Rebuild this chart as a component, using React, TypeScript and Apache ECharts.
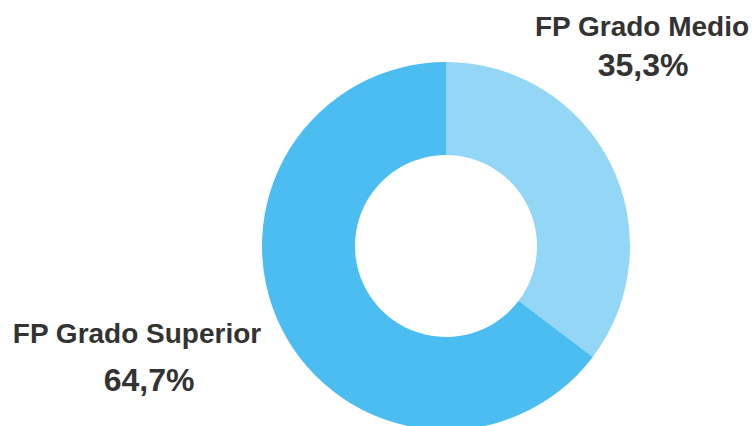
import React, { useEffect, useRef } from "react";
import * as echarts from "echarts";

const categories = ["FP Grado Medio", "FP Grado Superior"];
const values = [35.3, 64.7];
const colors = ["#93D6F5", "#4BBDF1"];

const fmt = (v: number) => v.toFixed(1).replace(".", ",") + "%";

export default function App() {
  const ref = useRef<HTMLDivElement>(null);
  useEffect(() => {
    if (!ref.current) return;
    const chart = echarts.init(ref.current, null, { renderer: "svg" });
    const labelStyle = { fill: "#333333", fontFamily: "Arial", fontWeight: "bold" as const };
    chart.setOption({
      animation: false,
      backgroundColor: "#ffffff",
      series: [
        {
          type: "pie",
          center: [446, 246],
          radius: [91, 184],
          startAngle: 90,
          clockwise: true,
          label: { show: false },
          labelLine: { show: false },
          itemStyle: { borderWidth: 0 },
          emphasis: { disabled: true },
          data: categories.map((c, i) => ({ name: c, value: values[i], itemStyle: { color: colors[i] } })),
        },
      ],
      graphic: [
        { type: "text", x: 642, y: 26, style: { ...labelStyle, text: categories[0], fontSize: 28, align: "center", verticalAlign: "middle" } },
        { type: "text", x: 643, y: 65, style: { ...labelStyle, text: fmt(values[0]), fontSize: 32, align: "center", verticalAlign: "middle" } },
        { type: "text", x: 137, y: 333, style: { ...labelStyle, text: categories[1], fontSize: 28, align: "center", verticalAlign: "middle" } },
        { type: "text", x: 149, y: 380, style: { ...labelStyle, text: fmt(values[1]), fontSize: 32, align: "center", verticalAlign: "middle" } },
      ],
    });
    return () => chart.dispose();
  }, []);
  return <div ref={ref} style={{ position: "fixed", left: 0, top: 0, width: 756, height: 426 }} />;
}
